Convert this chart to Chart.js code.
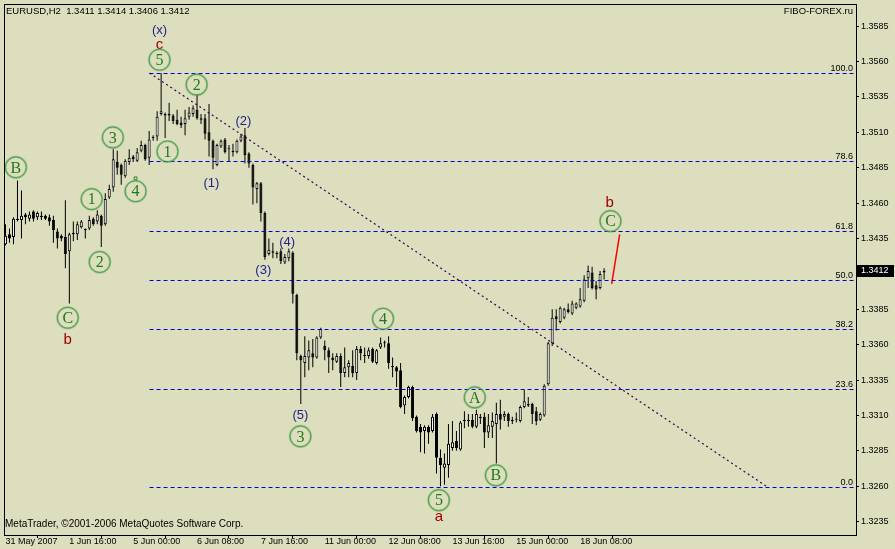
<!DOCTYPE html>
<html>
<head>
<meta charset="utf-8">
<script src="https://cdn.jsdelivr.net/npm/chart.js@4.4.1/dist/chart.umd.min.js"></script>
<style>
  html, body { margin: 0; padding: 0; background: #dcdebe; }
  #wrap { width: 895px; height: 549px; }
</style>
</head>
<body>
<div id="wrap"><canvas id="chart" width="895" height="549"></canvas></div>
<script>
// EURUSD H2 candles, bar index 0..150
const opens = [
  1.3431,1.3438,1.3436,1.3449,1.3448,1.3452,1.3449,1.3454,1.3450,1.3451,
  1.3451,1.3450,1.3448,1.3440,1.3437,1.3436,1.3426,1.3438,1.3438,1.3443,
  1.3441,1.3442,1.3449,1.3447,1.3451,1.3445,1.3464,1.3471,1.3489,1.3487,
  1.3479,1.3489,1.3493,1.3490,1.3497,1.3501,1.3492,1.3506,1.3507,1.3523,
  1.3523,1.3522,1.3522,1.3519,1.3517,1.3516,1.3521,1.3523,1.3526,1.3520,
  1.3520,1.3510,1.3504,1.3487,1.3500,1.3505,1.3498,1.3496,1.3496,1.3504,
  1.3508,1.3495,1.3487,1.3470,1.3474,1.3453,1.3424,1.3426,1.3425,1.3426,
  1.3418,1.3421,1.3425,1.3395,1.3352,1.3347,1.3351,1.3354,1.3351,1.3365,
  1.3359,1.3356,1.3351,1.3348,1.3352,1.3340,1.3344,1.3345,1.3340,1.3357,
  1.3352,1.3352,1.3357,1.3347,1.3358,1.3361,1.3361,1.3345,1.3344,1.3342,
  1.3317,1.3323,1.3330,1.3309,1.3302,1.3299,1.3302,1.3299,1.3311,1.3280,
  1.3273,1.3275,1.3287,1.3292,1.3286,1.3307,1.3306,1.3307,1.3302,1.3309,
  1.3309,1.3298,1.3302,1.3304,1.3311,1.3309,1.3311,1.3307,1.3307,1.3306,
  1.3316,1.3318,1.3318,1.3313,1.3307,1.3310,1.3332,1.3361,1.3380,1.3376,
  1.3379,1.3385,1.3382,1.3386,1.3387,1.3391,1.3407,1.3411,1.3402,1.3400,
  1.3411
];
const highs = [
  1.3445,1.3442,1.3450,1.3476,1.3469,1.3453,1.3454,1.3455,1.3454,1.3454,
  1.3452,1.3452,1.3451,1.3442,1.3438,1.3462,1.3439,1.3447,1.3447,1.3448,
  1.3442,1.3451,1.3450,1.3455,1.3452,1.3467,1.3473,1.3498,1.3497,1.3488,
  1.3491,1.3498,1.3494,1.3499,1.3504,1.3502,1.3511,1.3508,1.3525,1.3552,
  1.3524,1.3531,1.3523,1.3526,1.3521,1.3526,1.3528,1.3529,1.3537,1.3523,
  1.3523,1.3530,1.3505,1.3502,1.3505,1.3506,1.3501,1.3502,1.3505,1.3509,
  1.3513,1.3496,1.3488,1.3475,1.3475,1.3454,1.3435,1.3432,1.3426,1.3428,
  1.3424,1.3428,1.3426,1.3396,1.3353,1.3366,1.3363,1.3364,1.3366,1.3372,
  1.3363,1.3358,1.3354,1.3354,1.3354,1.3358,1.3349,1.3356,1.3359,1.3359,
  1.3358,1.3358,1.3358,1.3357,1.3365,1.3363,1.3366,1.3351,1.3345,1.3347,
  1.3324,1.3331,1.3331,1.3310,1.3304,1.3303,1.3303,1.3311,1.3312,1.3286,
  1.3283,1.3304,1.3306,1.3299,1.3306,1.3313,1.3311,1.3311,1.3314,1.3311,
  1.3312,1.3311,1.3312,1.3319,1.3321,1.3313,1.3312,1.3309,1.3312,1.3317,
  1.3328,1.3323,1.3319,1.3316,1.3312,1.3332,1.3362,1.3385,1.3385,1.3387,
  1.3386,1.3389,1.3391,1.3390,1.3400,1.3409,1.3416,1.3415,1.3405,1.3412,
  1.3414
];
const lows = [
  1.3430,1.3432,1.3431,1.3447,1.3435,1.3445,1.3447,1.3447,1.3448,1.3448,
  1.3448,1.3444,1.3432,1.3428,1.3433,1.3414,1.3389,1.3433,1.3434,1.3442,
  1.3435,1.3441,1.3444,1.3445,1.3429,1.3444,1.3463,1.3468,1.3480,1.3473,
  1.3478,1.3487,1.3489,1.3489,1.3496,1.3490,1.3487,1.3504,1.3504,1.3522,
  1.3506,1.3518,1.3516,1.3515,1.3513,1.3508,1.3519,1.3521,1.3519,1.3516,
  1.3505,1.3493,1.3484,1.3486,1.3499,1.3495,1.3489,1.3493,1.3495,1.3503,
  1.3488,1.3485,1.3459,1.3460,1.3447,1.3420,1.3423,1.3421,1.3421,1.3417,
  1.3417,1.3419,1.3389,1.3349,1.3318,1.3337,1.3342,1.3344,1.3350,1.3364,
  1.3349,1.3340,1.3342,1.3347,1.3330,1.3337,1.3337,1.3337,1.3335,1.3349,
  1.3347,1.3350,1.3347,1.3346,1.3357,1.3358,1.3343,1.3337,1.3330,1.3315,
  1.3311,1.3322,1.3306,1.3298,1.3284,1.3283,1.3290,1.3298,1.3269,1.3260,
  1.3261,1.3266,1.3285,1.3285,1.3285,1.3301,1.3302,1.3301,1.3301,1.3304,
  1.3287,1.3294,1.3294,1.3276,1.3300,1.3306,1.3302,1.3304,1.3305,1.3305,
  1.3315,1.3316,1.3304,1.3303,1.3306,1.3309,1.3331,1.3359,1.3370,1.3375,
  1.3378,1.3382,1.3381,1.3385,1.3386,1.3390,1.3400,1.3399,1.3392,1.3399,
  1.3406
];
const closes = [
  1.3437,1.3435,1.3449,1.3448,1.3451,1.3450,1.3452,1.3449,1.3453,1.3450,
  1.3449,1.3447,1.3441,1.3435,1.3435,1.3424,1.3438,1.3439,1.3445,1.3447,
  1.3441,1.3448,1.3445,1.3452,1.3444,1.3463,1.3470,1.3491,1.3485,1.3480,
  1.3490,1.3492,1.3491,1.3496,1.3501,1.3491,1.3505,1.3506,1.3521,1.3525,
  1.3522,1.3523,1.3518,1.3516,1.3515,1.3520,1.3524,1.3527,1.3520,1.3519,
  1.3509,1.3504,1.3492,1.3501,1.3504,1.3496,1.3498,1.3497,1.3504,1.3507,
  1.3494,1.3488,1.3471,1.3474,1.3453,1.3422,1.3427,1.3425,1.3424,1.3419,
  1.3422,1.3426,1.3396,1.3354,1.3349,1.3352,1.3356,1.3351,1.3365,1.3371,
  1.3356,1.3351,1.3349,1.3352,1.3340,1.3344,1.3347,1.3340,1.3357,1.3354,
  1.3352,1.3356,1.3348,1.3356,1.3361,1.3361,1.3347,1.3344,1.3341,1.3316,
  1.3323,1.3330,1.3308,1.3299,1.3298,1.3302,1.3298,1.3309,1.3280,1.3275,
  1.3276,1.3290,1.3291,1.3287,1.3305,1.3306,1.3306,1.3302,1.3311,1.3308,
  1.3298,1.3303,1.3306,1.3311,1.3307,1.3311,1.3306,1.3306,1.3307,1.3316,
  1.3320,1.3317,1.3311,1.3306,1.3311,1.3331,1.3361,1.3379,1.3378,1.3386,
  1.3385,1.3383,1.3389,1.3389,1.3392,1.3406,1.3412,1.3400,1.3399,1.3410,
  1.3412
];

const timeTickBars = [0, 16, 32, 48, 64, 80, 96, 112, 128, 144];
const timeTickLabels = ['31 May 2007', '1 Jun 16:00', '5 Jun 00:00', '6 Jun 08:00', '7 Jun 16:00',
  '11 Jun 00:00', '12 Jun 08:00', '13 Jun 16:00', '15 Jun 00:00', '18 Jun 08:00'];
const priceTicks = [1.3235, 1.3260, 1.3285, 1.3310, 1.3335, 1.3360, 1.3385, 1.3410,
  1.3435, 1.3460, 1.3485, 1.3510, 1.3535, 1.3560, 1.3585];

// fibonacci retracement, drawn from the top of wave (x) down to wave a
const fibLevels = [0, 23.6, 38.2, 50, 61.8, 78.6, 100];
const fibLow = 1.32591;
const fibHigh = 1.35519;
const fibStartBar = 36.1;
const trendBars = [36.1, 191.1];
const trendPrices = [1.35519, 1.32591];
const projBars = [151.9, 153.9];
const projPrices = [1.3403, 1.3438];
const markBar = [32.6];
const markPrice = [1.34775];

// wave labels
const waveText = ['(x)', 'c', '5', '2', '3', '1', 'B', '(2)', '4', '(1)', '1', '2', 'C', 'b',
  '(4)', '(3)', '4', '(5)', '3', 'A', 'B', '5', 'a', 'b', 'C'];
const waveBar = [38.6, 38.6, 38.6, 47.9, 26.9, 40.6, 2.6, 59.6, 32.6, 51.6, 21.6, 23.6, 15.6, 15.6,
  70.6, 64.6, 94.6, 73.9, 73.9, 117.6, 122.9, 108.6, 108.6, 151.4, 151.6];
const wavePrice = [1.35817, 1.35719, 1.35613, 1.35437, 1.35064, 1.34965, 1.34853, 1.35177, 1.34684,
  1.3474, 1.34628, 1.34184, 1.3379, 1.33635, 1.34325, 1.34121, 1.33783, 1.3310, 1.32952, 1.33227,
  1.32677, 1.32501, 1.32382, 1.3460, 1.34473];
const waveKind = ['navy', 'red', 'circle', 'circle', 'circle', 'circle', 'circle', 'navy', 'circle',
  'navy', 'circle', 'circle', 'circle', 'red', 'navy', 'navy', 'circle', 'navy', 'circle', 'circle',
  'circle', 'circle', 'red', 'red', 'circle'];

const BG = '#dcdebe';
const FIB_BLUE = '#0000d0';
const SANS = '"Liberation Sans", Arial, sans-serif';
const SERIF = '"Liberation Serif", "Times New Roman", serif';

Chart.defaults.font.family = SANS;
Chart.defaults.font.size = 9;
Chart.defaults.color = '#000';

const fibPrice = (lvl) => fibLow + (fibHigh - fibLow) * lvl / 100;
const xMax = 213.125;

const bodyColors = opens.map((o, i) => (closes[i] >= o ? '#ffffff' : '#000000'));
const bodyData = opens.map((o, i) => ({ x: i, y: [o, closes[i]] }));
const wickData = lows.map((l, i) => ({ x: i, y: [l, highs[i]] }));

const fibSets = fibLevels.map((lvl) => ({
  type: 'line',
  snapPrice: fibPrice(lvl),
  data: [{ x: fibStartBar, y: fibPrice(lvl) }, { x: xMax, y: fibPrice(lvl) }],
  borderColor: FIB_BLUE,
  borderWidth: 1,
  borderDash: [4, 3],
  pointRadius: 0,
  fill: false,
  order: 0,
}));

// keep the horizontal fib lines on whole pixels so they stay crisp
const snapLines = {
  id: 'snapLines',
  beforeDatasetDraw(chart, args) {
    const ds = chart.data.datasets[args.index];
    chart.ctx.save();
    if (ds.snapPrice !== undefined) {
      const py = chart.scales.y.getPixelForValue(ds.snapPrice);
      chart.ctx.translate(0, Math.floor(py) + 0.5 - py);
    }
  },
  afterDatasetDraw(chart) {
    chart.ctx.restore();
  },
};

const overlay = {
  id: 'overlay',
  beforeDraw(chart) {
    const ctx = chart.ctx;
    ctx.save();
    ctx.fillStyle = BG;
    ctx.fillRect(0, 0, chart.width, chart.height);
    ctx.restore();
  },
  afterDatasetsDraw(chart) {
    const { ctx, scales: { x, y } } = chart;
    ctx.save();
    // fib level captions
    ctx.font = '9px ' + SANS;
    ctx.fillStyle = '#000';
    ctx.textAlign = 'right';
    ctx.textBaseline = 'alphabetic';
    fibLevels.forEach((lvl) => {
      ctx.fillText(lvl.toFixed(1), 853, Math.floor(y.getPixelForValue(fibPrice(lvl))) - 2);
    });

    // wave labels
    ctx.textAlign = 'center';
    ctx.textBaseline = 'middle';
    waveText.forEach((t, i) => {
      const px = x.getPixelForValue(waveBar[i]);
      const py = y.getPixelForValue(wavePrice[i]);
      if (waveKind[i] === 'circle') {
        ctx.beginPath();
        ctx.arc(px, py, 10.5, 0, Math.PI * 2);
        ctx.strokeStyle = 'rgba(90,170,90,0.5)';
        ctx.lineWidth = 2.2;
        ctx.stroke();
        ctx.strokeStyle = 'rgba(50,140,50,0.75)';
        ctx.lineWidth = 0.9;
        ctx.stroke();
        ctx.font = '16px ' + SERIF;
        ctx.fillStyle = '#1d7a1d';
        ctx.fillText(t, px, py + 1);
      } else if (waveKind[i] === 'navy') {
        ctx.font = '13px ' + SANS;
        ctx.fillStyle = '#22228c';
        ctx.fillText(t, px, py);
      } else {
        ctx.font = '15px ' + SANS;
        ctx.fillStyle = '#a00000';
        ctx.fillText(t, px, py);
      }
    });
    ctx.restore();
  },
  afterDraw(chart) {
    const { ctx, chartArea: a, scales: { y } } = chart;
    ctx.save();
    // frame
    ctx.strokeStyle = '#000';
    ctx.lineWidth = 1;
    ctx.strokeRect(a.left - 0.5, a.top - 0.5, a.right - a.left + 1, a.bottom - a.top + 1);

    ctx.font = '9.5px ' + SANS;
    ctx.fillStyle = '#000';
    ctx.textBaseline = 'middle';
    ctx.textAlign = 'left';
    ctx.fillText('EURUSD,H2  1.3411 1.3414 1.3406 1.3412', 6, 11);
    ctx.textAlign = 'right';
    ctx.fillText('FIBO-FOREX.ru', 853, 11);

    ctx.textAlign = 'left';
    ctx.font = '10px ' + SANS;
    ctx.fillText('MetaTrader, \u00a92001-2006 MetaQuotes Software Corp.', 5, 524);

    // last price box
    const py = Math.round(y.getPixelForValue(closes[closes.length - 1]));
    ctx.font = '9px ' + SANS;
    ctx.fillStyle = '#000';
    ctx.fillRect(857, py - 6, 37, 12);
    ctx.fillStyle = '#fff';
    ctx.fillText(closes[closes.length - 1].toFixed(4), 861, py);
    ctx.restore();
  },
};

new Chart(document.getElementById('chart'), {
  type: 'bar',
  data: {
    datasets: [
      ...fibSets,
      {
        type: 'line',
        data: trendBars.map((b, i) => ({ x: b, y: trendPrices[i] })),
        borderColor: '#3a0050',
        borderWidth: 1.2,
        borderDash: [2, 3],
        pointRadius: 0,
        fill: false,
        order: 0,
      },
      {
        type: 'line',
        data: projBars.map((b, i) => ({ x: b, y: projPrices[i] })),
        borderColor: '#ff0000',
        borderWidth: 1.5,
        pointRadius: 0,
        fill: false,
        order: 0,
      },
      {
        type: 'line',
        data: markBar.map((b, i) => ({ x: b, y: markPrice[i] })),
        showLine: false,
        pointStyle: 'rect',
        pointRadius: 2,
        pointBorderColor: '#2a8a2a',
        pointBackgroundColor: 'rgba(0,0,0,0)',
        pointBorderWidth: 1,
        order: 0,
      },
      {
        type: 'bar',
        data: bodyData,
        backgroundColor: bodyColors,
        borderColor: '#000',
        borderWidth: 1,
        borderSkipped: false,
        barThickness: 3,
        minBarLength: 1,
        inflateAmount: 0,
        grouped: false,
        order: 1,
      },
      {
        type: 'bar',
        data: wickData,
        backgroundColor: '#000',
        borderWidth: 0,
        barThickness: 1,
        minBarLength: 1,
        inflateAmount: 0,
        grouped: false,
        order: 2,
      },
    ],
  },
  options: {
    responsive: false,
    animation: false,
    events: [],
    layout: { padding: { left: 3, top: 3, right: 0, bottom: 0 } },
    plugins: { legend: { display: false }, tooltip: { enabled: false } },
    scales: {
      x: {
        type: 'linear',
        min: -0.125,
        max: xMax,
        offset: false,
        border: { display: false },
        grid: { drawOnChartArea: false, drawTicks: true, tickLength: 3, color: '#000' },
        ticks: {
          autoSkip: false,
          maxRotation: 0,
          minRotation: 0,
          align: 'start',
          padding: -2,
          font: { size: 9 },
          callback: (v) => {
            const i = timeTickBars.indexOf(v);
            return i >= 0 ? timeTickLabels[i] : '';
          },
        },
        afterBuildTicks: (s) => { s.ticks = timeTickBars.map((v) => ({ value: v })); },
        afterFit: (s) => { s.height = 14; s.paddingLeft = 0; s.paddingRight = 0; },
      },
      y: {
        type: 'linear',
        position: 'right',
        min: 1.32255,
        max: 1.3600,
        border: { display: false },
        grid: { drawOnChartArea: false, drawTicks: true, tickLength: 3, color: '#000' },
        ticks: {
          padding: 2,
          font: { size: 9 },
          callback: (v) => v.toFixed(4),
        },
        afterBuildTicks: (s) => { s.ticks = priceTicks.map((v) => ({ value: v })); },
        afterFit: (s) => { s.width = 39; s.paddingTop = 0; s.paddingBottom = 0; },
      },
    },
  },
  plugins: [snapLines, overlay],
});
</script>
</body>
</html>
